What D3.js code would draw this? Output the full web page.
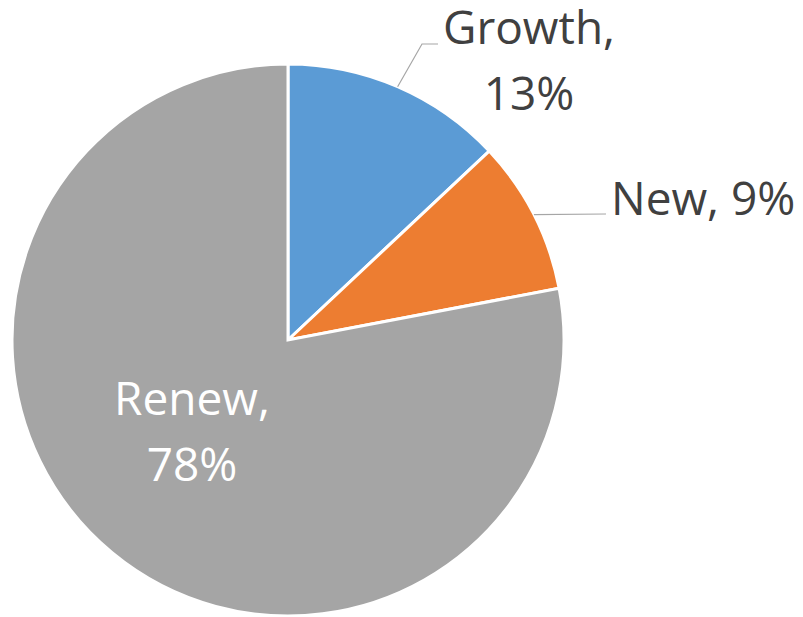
<!DOCTYPE html>
<html>
<head>
<meta charset="utf-8">
<script src="https://cdn.jsdelivr.net/npm/d3@7"></script>
<style>
  html, body { margin: 0; padding: 0; background: #fff; }
  svg { display: block; }
  text { font-family: "Open Sans", "Noto Sans", sans-serif; }
</style>
</head>
<body>
<svg id="chart" width="803" height="617"></svg>
<script>
// Share of revenue by type
const categories = ["Growth", "New", "Renew"];
const shares = [13, 9, 78];
const colors = ["#5B9BD5", "#ED7D31", "#A5A5A5"];

const W = 803, H = 617;
const cx = 288, cy = 340, R = 276;

const svg = d3.select("#chart");
const g = svg.append("g").attr("transform", `translate(${cx},${cy})`);

const data = categories.map((c, i) => ({ name: c, value: shares[i], color: colors[i] }));

const pie = d3.pie().sort(null).value(d => d.value);
const arc = d3.arc().innerRadius(0).outerRadius(R);
const arcs = pie(data);

g.selectAll("path.slice")
  .data(arcs)
  .join("path")
  .attr("class", "slice")
  .attr("d", arc)
  .attr("fill", d => d.data.color)
  .attr("stroke", "#fff")
  .attr("stroke-width", 3)
  .attr("stroke-linejoin", "miter");

// point on the rim at the slice's mid-angle
function rimPoint(d) {
  const a = (d.startAngle + d.endAngle) / 2;
  return [R * Math.sin(a), -R * Math.cos(a)];
}

const fmt = d => `${d.data.value}%`;
const fontSize = 46;
const lineGap = 66;

// label placement, relative to the pie centre
const labelLayout = {
  Growth: { type: "outside", elbow: [134, -296], end: [150, -296], x: 241, y: -296, lines: d => [`${d.data.name},`, fmt(d)] },
  New:    { type: "outside", elbow: null, end: [318, -126], x: 323, y: -125, lines: d => [`${d.data.name}, ${fmt(d)}`], anchor: "start" },
  Renew:  { type: "inside", x: -96, y: 75, lines: d => [`${d.data.name},`, fmt(d)] }
};

arcs.forEach(d => {
  const L = labelLayout[d.data.name];
  if (L.type === "outside") {
    const p0 = rimPoint(d);
    const pts = [p0];
    if (L.elbow) pts.push(L.elbow);
    pts.push(L.end);
    g.append("path")
      .attr("d", d3.line()(pts))
      .attr("fill", "none")
      .attr("stroke", "#A6A6A6")
      .attr("stroke-width", 1.2);
  }
  const lines = L.lines(d);
  const t = g.append("text")
    .attr("x", L.x)
    .attr("y", L.y)
    .attr("text-anchor", L.anchor || "middle")
    .attr("font-size", fontSize)
    .attr("fill", L.type === "inside" ? "#FFFFFF" : "#404040");
  lines.forEach((s, i) => {
    t.append("tspan")
      .attr("x", L.x)
      .attr("dy", i === 0 ? 0 : lineGap)
      .text(s);
  });
});
</script>
</body>
</html>
